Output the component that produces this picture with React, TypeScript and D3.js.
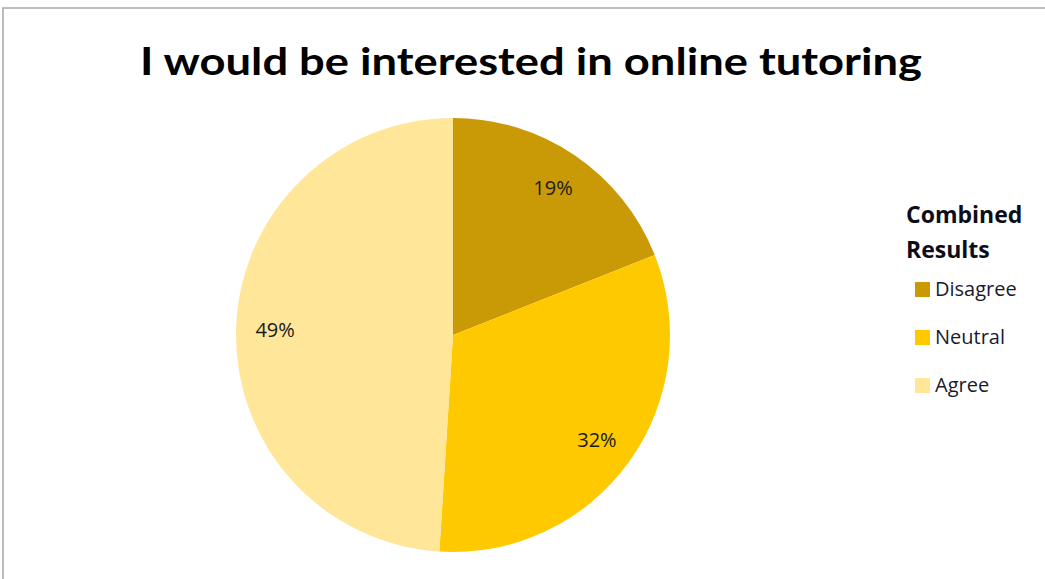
import React from "react";
import * as d3 from "d3";

const categories = ["Disagree", "Neutral", "Agree"];
const values = [19, 32, 49];
const colors = ["#C99A06", "#FFC900", "#FFE699"];
const title = "I would be interested in online tutoring";
const legendTitle = ["Combined", "Results"];

export default function App() {
  const W = 1045, H = 579;
  const cx = 453, cy = 335, r = 217;
  const pie = d3.pie<number>().sort(null).value((d) => d)(values);
  const arc = d3.arc<d3.PieArcDatum<number>>().innerRadius(0).outerRadius(r);
  const labelArc = d3.arc<d3.PieArcDatum<number>>().innerRadius(r * 0.82).outerRadius(r * 0.82);
  const total = d3.sum(values);
  const font = "Lato, 'Open Sans', sans-serif";
  const font2 = "'Open Sans', Lato, sans-serif";
  return (
    <svg width={W} height={H} style={{ position: "absolute", left: 0, top: 0 }}>
      <rect x={0} y={0} width={W} height={H} fill="#fff" />
      <rect x={3} y={8} width={W + 10} height={H + 10} fill="none" stroke="#a6a6a6" strokeWidth={1.5} />
      <text x={531} y={75} textAnchor="middle" fontFamily={font} fontWeight="bold" fontSize={38} fill="#000"
        textLength={782} lengthAdjust="spacingAndGlyphs">{title}</text>
      <g transform={`translate(${cx},${cy})`}>
        {pie.map((p, i) => (
          <path key={i} d={arc(p) || ""} fill={colors[i]} />
        ))}
        {pie.map((p, i) => {
          const [x, y] = labelArc.centroid(p);
          return (
            <text key={"l" + i} x={x} y={y + 2} textAnchor="middle" dominantBaseline="middle"
              fontFamily={font2} fontSize={20} fill="#1a1a1a">
              {Math.round((values[i] / total) * 100)}%
            </text>
          );
        })}
      </g>
      <g fontFamily={font2}>
        {legendTitle.map((t, i) => (
          <text key={t} x={906} y={223 + i * 35} fontWeight="bold" fontSize={23} fill="#0d0d1a">{t}</text>
        ))}
        {categories.map((c, i) => (
          <g key={c} transform={`translate(915,${282 + i * 48})`}>
            <rect x={0} y={0} width={15} height={15} fill={colors[i]} />
            <text x={20} y={14} fontSize={20} fill="#1a1a2e">{c}</text>
          </g>
        ))}
      </g>
    </svg>
  );
}
